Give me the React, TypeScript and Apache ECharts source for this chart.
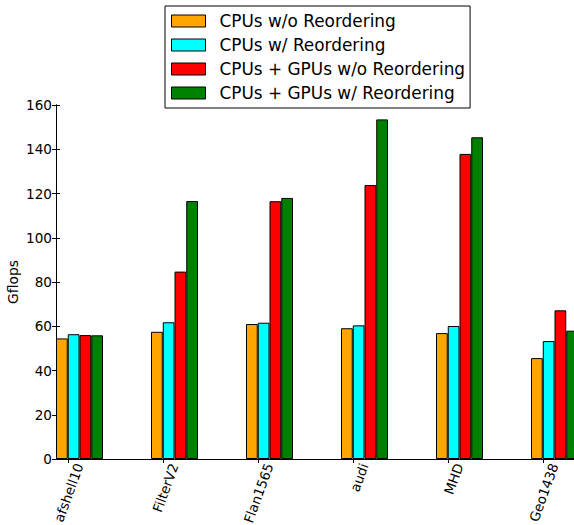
import React, { useEffect, useRef } from "react";
import * as echarts from "echarts";

// Matrices benchmarked
const categories = ["afshell10", "FilterV2", "Flan1565", "audi", "MHD", "Geo1438"];

// Gflops per configuration
const cpuNoReorder = [54.5, 57.5, 61.0, 59.1, 56.9, 45.6];
const cpuReorder = [56.4, 61.8, 61.6, 60.4, 60.1, 53.3];
const hybridNoReorder = [56.0, 84.7, 116.5, 123.8, 137.9, 67.2];
const hybridReorder = [55.9, 116.6, 118.0, 153.5, 145.4, 58.0];

const seriesNames = [
  "CPUs w/o Reordering",
  "CPUs w/ Reordering",
  "CPUs + GPUs w/o Reordering",
  "CPUs + GPUs w/ Reordering",
];
const seriesColors = ["#FFA500", "#00FFFF", "#FF0000", "#008000"];
const seriesValues = [cpuNoReorder, cpuReorder, hybridNoReorder, hybridReorder];

// y axis range
const yMin = 0;
const yMax = 160;
const yStep = 20;

// x extent of the frame in group units (each group is 0.5 wide)
const xFrameMax = 5.5;
const topTickValues = categories.map((_, i) => i + 0.125);

const FONT = "DejaVu Sans";

export default function App() {
  const ref = useRef<HTMLDivElement>(null);

  useEffect(() => {
    if (!ref.current) return;
    const chart = echarts.init(ref.current, null, { renderer: "svg" });

    const frameGrid = { left: 56, top: 105, width: 522.5, height: 354 };
    // bar grid: one category band per group, band centre on the group's centre
    const barGrid = { left: 32, top: 105, width: 570, height: 354 };

    chart.setOption({
      animation: false,
      backgroundColor: "#ffffff",
      grid: [
        { ...frameGrid, containLabel: false, outerBoundsMode: "none" },
        { ...barGrid, containLabel: false, outerBoundsMode: "none" },
      ],
      legend: {
        orient: "vertical",
        left: 165,
        top: 6,
        z: 10,
        data: seriesNames,
        backgroundColor: "#ffffff",
        borderColor: "#000000",
        borderWidth: 1,
        borderRadius: 0,
        padding: [6, 5, 6, 6],
        itemWidth: 34,
        itemHeight: 12,
        itemGap: 6,
        icon: "rect",
        itemStyle: { borderColor: "#000000", borderWidth: 1 },
        textStyle: {
          fontFamily: FONT,
          fontSize: 16.9,
          lineHeight: 18,
          color: "#000000",
          padding: [0, 0, 0, 9],
        },
      },
      xAxis: [
        {
          // bottom frame line
          type: "value",
          gridIndex: 0,
          position: "bottom",
          min: 0,
          max: xFrameMax,
          axisLine: { show: true, lineStyle: { color: "#000000", width: 1 } },
          axisTick: { show: false },
          axisLabel: { show: false },
          splitLine: { show: false },
        },
        {
          // top frame line with inward ticks
          type: "value",
          gridIndex: 0,
          position: "top",
          min: 0,
          max: xFrameMax,
          axisLine: { show: true, lineStyle: { color: "#000000", width: 1 } },
          axisTick: {
            show: true,
            inside: true,
            length: 4,
            customValues: topTickValues,
            lineStyle: { color: "#000000" },
          },
          axisLabel: { show: false },
          splitLine: { show: false },
        },
        {
          // categories for the bars and the rotated labels
          type: "category",
          gridIndex: 1,
          position: "bottom",
          data: categories,
          axisLine: { show: false },
          axisTick: { show: false },
          splitLine: { show: false },
          axisLabel: {
            interval: 0,
            rotate: 70,
            margin: 5,
            fontFamily: FONT,
            fontSize: 13.4,
            color: "#000000",
          },
        },
      ],
      yAxis: [
        {
          type: "value",
          gridIndex: 0,
          position: "left",
          min: yMin,
          max: yMax,
          interval: yStep,
          name: "Gflops",
          nameLocation: "middle",
          nameGap: 36,
          nameMoveOverlap: false,
          nameTextStyle: { fontFamily: FONT, fontSize: 13.8, color: "#000000" },
          axisLine: { show: true, lineStyle: { color: "#000000", width: 1 } },
          axisTick: { show: true, inside: true, length: 4, lineStyle: { color: "#000000" } },
          axisLabel: { margin: 4, fontFamily: FONT, fontSize: 13.6, color: "#000000" },
          splitLine: { show: false },
        },
        {
          type: "value",
          gridIndex: 0,
          position: "right",
          min: yMin,
          max: yMax,
          interval: yStep,
          axisLine: { show: true, lineStyle: { color: "#000000", width: 1 } },
          axisTick: { show: true, inside: true, length: 4, lineStyle: { color: "#000000" } },
          axisLabel: { show: false },
          splitLine: { show: false },
        },
        {
          type: "value",
          gridIndex: 1,
          min: yMin,
          max: yMax,
          interval: yStep,
          show: false,
          splitLine: { show: false },
        },
      ],
      series: seriesNames.map((name, k) => ({
        name,
        type: "bar",
        xAxisIndex: 2,
        yAxisIndex: 2,
        data: seriesValues[k],
        barWidth: 11.75,
        barGap: "0%",
        itemStyle: { color: seriesColors[k], borderColor: "#000000", borderWidth: 1 },
        emphasis: { disabled: true },
      })),
    });

    return () => chart.dispose();
  }, []);

  return (
    <div
      style={{
        position: "fixed",
        left: 0,
        top: 0,
        width: 574,
        height: 525,
        overflow: "hidden",
        background: "#ffffff",
      }}
    >
      <div ref={ref} style={{ width: 600, height: 525 }} />
    </div>
  );
}
